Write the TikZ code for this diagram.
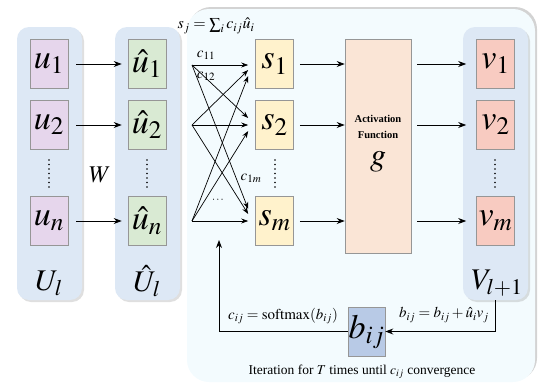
\documentclass[tikz,border=0pt]{standalone}
\usepackage{mathptmx}
\usepackage[no-math]{fontspec}
\setmainfont{Liberation Serif}
\usetikzlibrary{arrows.meta,shadows,calc}
\definecolor{panelblue}{RGB}{221,232,245}
\definecolor{upurple}{RGB}{230,214,236}
\definecolor{ugreen}{RGB}{217,234,211}
\definecolor{syellow}{RGB}{255,242,204}
\definecolor{actpeach}{RGB}{250,229,214}
\definecolor{vsalmon}{RGB}{248,203,193}
\definecolor{bblue}{RGB}{184,202,230}
\definecolor{bigbg}{RGB}{243,251,254}
\definecolor{bordergray}{RGB}{150,150,150}
\begin{document}
\begin{tikzpicture}[x=1pt,y=-1pt,
  panel/.style={fill=panelblue,rounded corners=12pt,inner sep=0pt,drop shadow={opacity=0.25,shadow xshift=2pt,shadow yshift=-2pt}},
  cell/.style={draw=bordergray,line width=0.6pt,minimum width=38pt,minimum height=49pt,inner sep=0pt,font=\fontsize{34}{36}\selectfont},
  arr/.style={-{Stealth[length=8pt,width=6pt]},line width=0.9pt},
  xarr/.style={-{Stealth[length=7pt,width=5pt]},line width=0.7pt},
  vdots/.style={line width=1.7pt,dash pattern=on 0pt off 4.5pt,line cap=round},
  lbl/.style={inner sep=0pt,font=\fontsize{30}{32}\selectfont},
  small/.style={inner sep=0pt,font=\fontsize{15}{17}\selectfont}]
\useasboundingbox (0,0) rectangle (539,386);
% big panel
\node[fill=bigbg,rounded corners=22pt,minimum width=348pt,minimum height=373pt,inner sep=0pt,
  drop shadow={opacity=0.35,shadow xshift=2pt,shadow yshift=2pt}] (big) at (361,195.5) {};
% side panels
\node[panel,minimum width=65pt,minimum height=273pt] (PU) at (49.5,163.5) {};
\node[panel,minimum width=65pt,minimum height=273pt] (PUh) at (147.5,163.5) {};
\node[panel,minimum width=65pt,minimum height=273pt] (PV) at (495.5,163.5) {};
% cells
\node[cell,fill=upurple] (u1) at (49,64) {$u_1$};
\node[cell,fill=upurple] (u2) at (49,125) {$u_2$};
\node[cell,fill=upurple] (un) at (49,221) {$u_n$};
\node[cell,fill=ugreen] (h1) at (147,64) {$\hat{u}_1$};
\node[cell,fill=ugreen] (h2) at (147,125) {$\hat{u}_2$};
\node[cell,fill=ugreen] (hn) at (147,221) {$\hat{u}_n$};
\node[cell,fill=syellow] (s1) at (274.5,64) {$s_1$};
\node[cell,fill=syellow] (s2) at (274.5,125) {$s_2$};
\node[cell,fill=syellow] (sm) at (274.5,221) {$s_m$};
\node[cell,fill=vsalmon] (v1) at (495.5,64) {$v_1$};
\node[cell,fill=vsalmon] (v2) at (495.5,125) {$v_2$};
\node[cell,fill=vsalmon] (vm) at (495.5,221) {$v_m$};
% activation
\node[draw=bordergray,line width=0.6pt,fill=actpeach,minimum width=66pt,minimum height=214pt,inner sep=0pt] (act) at (378,146) {};
\node[inner sep=0pt,font=\bfseries\fontsize{10.5}{12}\selectfont,align=center] (acttxt) at (378,127) {Activation\\[4pt]Function};
\node[inner sep=0pt,font=\fontsize{32}{34}\selectfont] (g) at (378,162) {$g$};
% b cell
\node[cell,fill=bblue,minimum width=37pt] (b) at (366.5,331.5) {$b_{ij}$};
% panel labels
\node[lbl] (Ul) at (49,283) {$U_l$};
\node[lbl] (Uhl) at (147,281) {$\hat{U}_l$};
\node[lbl] (Vl) at (497,283) {$V_{l+1}$};
\node[lbl,font=\fontsize{24}{26}\selectfont] (W) at (100,175) {$W$};
% dots
\foreach \n/\x in {U/49,H/147,S/275,V/495}{
  \draw[vdots] (\x,160) -- (\x,190);
}
% u -> uhat
\draw[arr] (u1.east) ++(8,0) coordinate (a1) -- ([xshift=-6pt]h1.west);
\draw[arr] (u2.east) ++(8,0) coordinate (a2) -- ([xshift=-6pt]h2.west);
\draw[arr] (un.east) ++(8,0) coordinate (a3) -- ([xshift=-6pt]hn.west);
% crossing lines
\coordinate (A1) at (192,65);
\coordinate (A2) at (192,125);
\coordinate (A3) at (192,221);
\draw[xarr] (A1) -- ([xshift=-7pt,yshift=-1pt]s1.west);
\draw[xarr] (A1) -- ([xshift=-7pt,yshift=7pt]s2.west);
\draw[xarr] (A1) -- ([xshift=-7pt,yshift=12pt]sm.west);
\draw[xarr] (A2) -- ([xshift=-7pt,yshift=-6pt]s1.west);
\draw[xarr] (A2) -- ([xshift=-7pt]s2.west);
\draw[xarr] (A2) -- ([xshift=-7pt,yshift=7pt]sm.west);
\draw[xarr] (A3) -- ([xshift=-7pt,yshift=-12pt]s1.west);
\draw[xarr] (A3) -- ([xshift=-7pt,yshift=-6pt]s2.west);
\draw[xarr] (A3) -- ([xshift=-7pt]sm.west);
\node[small] (c11) at (206,55) {$c_{11}$};
\node[small] (c12) at (206,76) {$c_{12}$};
\node[small] (c1m) at (251,178) {$c_{1m}$};
\node[small,font=\fontsize{11}{12}\selectfont] (dd) at (218,200) {$\cdots$};
\node[small,font=\fontsize{16}{18}\selectfont] (sj) at (216,26) {$s_j=\sum_i c_{ij}\hat{u}_i$};
% s -> act -> v
\draw[arr] ([xshift=6pt]s1.east) -- (act.west |- s1);
\draw[arr] ([xshift=6pt]s2.east) -- (act.west |- s2);
\draw[arr] ([xshift=6pt]sm.east) -- (act.west |- sm);
\draw[arr] ([xshift=6pt]act.east |- v1) -- ([xshift=-10pt]v1.west);
\draw[arr] ([xshift=6pt]act.east |- v2) -- ([xshift=-10pt]v2.west);
\draw[arr] ([xshift=6pt]act.east |- vm) -- ([xshift=-10pt]vm.west);
% feedback
\coordinate (fb) at (219,240);
\draw[arr] (PV.south) -- (PV.south |- b.east) -- (b.east);
\draw[arr] (b.west) -- (fb |- b.west) -- (fb);
\node[small] (softmax) at (283,316) {$c_{ij}=\mathrm{softmax}(b_{ij})$};
\node[small] (bupd) at (444,315) {$b_{ij}=b_{ij}+\hat{u}_i v_j$};
\node[small,font=\fontsize{13.5}{15}\selectfont] (iter) at (362,372) {Iteration for $T$ times until $c_{ij}$ convergence};
\end{tikzpicture}
\end{document}
